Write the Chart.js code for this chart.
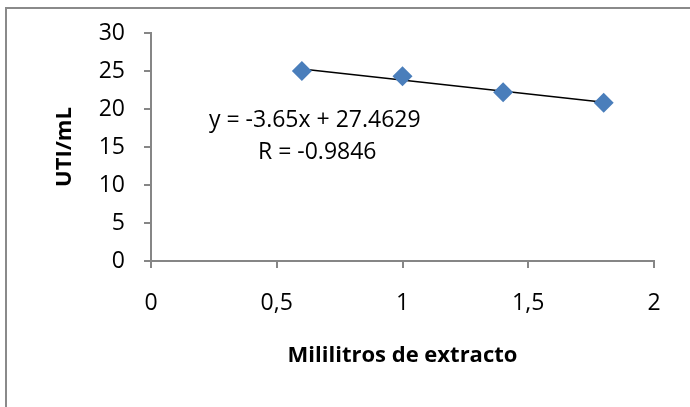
<!DOCTYPE html>
<html>
<head>
<meta charset="utf-8">
<script src="https://cdn.jsdelivr.net/npm/chart.js@4/dist/chart.umd.min.js"></script>
<style>
  body { margin: 0; background: #fff; }
  #frame { position: absolute; left: 5px; top: 7px; width: 800px; height: 500px;
           border-left: 2px solid #8a8a8a; border-top: 2px solid #8a8a8a; }
  #wrap { position: absolute; left: 0; top: 0; width: 690px; height: 407px; }
</style>
</head>
<body>
<div id="frame"></div>
<div id="wrap"><canvas id="chart" width="690" height="407"></canvas></div>
<script>
// Data
const mlExtracto = [0.6, 1.0, 1.4, 1.8];
const utiPorMl = [25.0, 24.3, 22.2, 20.83];

// Trendline as printed on the chart
const slope = -3.65;
const intercept = 27.4629;
const rValue = -0.9846;

const xTicks = [0, 0.5, 1, 1.5, 2];
const yTicks = [0, 5, 10, 15, 20, 25, 30];

const points = mlExtracto.map((x, i) => ({ x: x, y: utiPorMl[i] }));
const xFirst = mlExtracto[0];
const xLast = mlExtracto[mlExtracto.length - 1];
const trend = [
  { x: xFirst, y: slope * xFirst + intercept },
  { x: xLast, y: slope * xLast + intercept }
];

const FONT = "'Open Sans', sans-serif";

// Writes the trendline equation
const equationLabel = {
  id: "equationLabel",
  afterDraw(chart) {
    const ctx = chart.ctx;
    ctx.save();
    ctx.fillStyle = "#000";
    ctx.font = "23px " + FONT;
    ctx.textBaseline = "middle";
    ctx.textAlign = "left";
    ctx.fillText("y = " + slope + "x + " + intercept, 209, 120);
    ctx.fillText("R = " + rValue, 258, 152);
    ctx.restore();
  }
};

const gray = "#868686";

new Chart(document.getElementById("chart"), {
  type: "scatter",
  data: {
    datasets: [
      {
        label: "UTI/mL",
        data: points,
        pointStyle: "rectRot",
        pointRadius: 10,
        pointHoverRadius: 10,
        backgroundColor: "#4a7ebb",
        borderColor: "#4a7ebb",
        borderWidth: 0
      },
      {
        label: "Tendencia",
        data: trend,
        type: "line",
        showLine: true,
        borderColor: "#000",
        borderWidth: 1.5,
        pointRadius: 0,
        fill: false
      }
    ]
  },
  options: {
    responsive: false,
    animation: false,
    layout: { padding: { left: 0, right: 36, top: 33, bottom: 0 } },
    plugins: { legend: { display: false }, tooltip: { enabled: false } },
    scales: {
      x: {
        type: "linear",
        min: 0,
        max: 2,
        afterBuildTicks: (scale) => { scale.ticks = xTicks.map(v => ({ value: v })); },
        afterFit: (scale) => { scale.height = 146; },
        grid: { drawOnChartArea: false, drawTicks: true, tickLength: 7, color: gray, lineWidth: 2 },
        border: { display: true, color: gray, width: 2 },
        ticks: {
          color: "#000",
          font: { family: FONT, size: 23 },
          padding: 22,
          maxRotation: 0,
          callback: (v) => String(v).replace(".", ",")
        },
        title: {
          display: true,
          text: "Mililitros de extracto",
          color: "#000",
          font: { family: FONT, size: 22, weight: "bold" },
          padding: 38
        }
      },
      y: {
        min: 0,
        max: 30,
        afterBuildTicks: (scale) => { scale.ticks = yTicks.map(v => ({ value: v })); },
        afterFit: (scale) => { scale.width = 151; },
        grid: { drawOnChartArea: false, drawTicks: true, tickLength: 7, color: gray, lineWidth: 2 },
        border: { display: true, color: gray, width: 2 },
        ticks: {
          color: "#000",
          font: { family: FONT, size: 23 },
          padding: 19
        },
        title: {
          display: true,
          text: "UTI/mL",
          color: "#000",
          font: { family: FONT, size: 22, weight: "bold" },
          padding: 52
        }
      }
    }
  },
  plugins: [equationLabel]
});
</script>
</body>
</html>
